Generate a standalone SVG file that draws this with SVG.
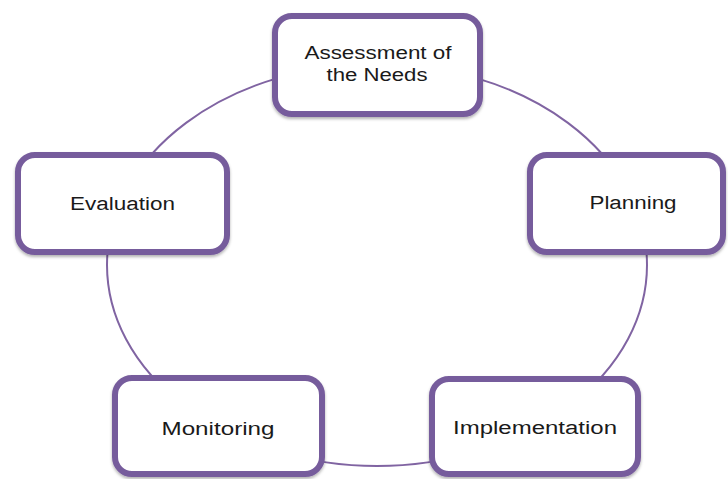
<svg xmlns="http://www.w3.org/2000/svg" width="728" height="479" viewBox="0 0 728 479">
<style>
.box{fill:#ffffff;stroke:#765B9C;stroke-width:6;filter:url(#sh)}
.lbl{font-family:"Liberation Sans",Arial,sans-serif;font-size:18px;fill:#1a1a1a;text-anchor:middle}
.conn{fill:none;stroke:#8064A2;stroke-width:2}
</style>
<defs>
<filter id="sh" x="-10%" y="-10%" width="120%" height="130%">
<feDropShadow dx="0" dy="2" stdDeviation="1.5" flood-color="#000" flood-opacity="0.3"/>
</filter>
</defs>
<rect width="728" height="479" fill="#ffffff"/>
<g id="connectors">
<ellipse class="conn" cx="377" cy="265" rx="270" ry="201"/>
</g>
<g id="node-assessment">
<rect class="box" x="275" y="16" width="205" height="98" rx="17"/>
<text class="lbl" x="378" y="59" textLength="147" lengthAdjust="spacingAndGlyphs">Assessment of</text>
<text class="lbl" x="377" y="81" textLength="101" lengthAdjust="spacingAndGlyphs">the Needs</text>
</g>
<g id="node-planning">
<rect class="box" x="530" y="155" width="193" height="97" rx="17"/>
<text class="lbl" x="633" y="209" textLength="87" lengthAdjust="spacingAndGlyphs">Planning</text>
</g>
<g id="node-implementation">
<rect class="box" x="432" y="379" width="206" height="95" rx="17"/>
<text class="lbl" x="535" y="434" textLength="164" lengthAdjust="spacingAndGlyphs">Implementation</text>
</g>
<g id="node-monitoring">
<rect class="box" x="115" y="378" width="207" height="96" rx="17"/>
<text class="lbl" x="218" y="435" textLength="113" lengthAdjust="spacingAndGlyphs">Monitoring</text>
</g>
<g id="node-evaluation">
<rect class="box" x="18" y="155" width="209" height="97" rx="17"/>
<text class="lbl" x="122.5" y="210" textLength="105" lengthAdjust="spacingAndGlyphs">Evaluation</text>
</g>
</svg>
